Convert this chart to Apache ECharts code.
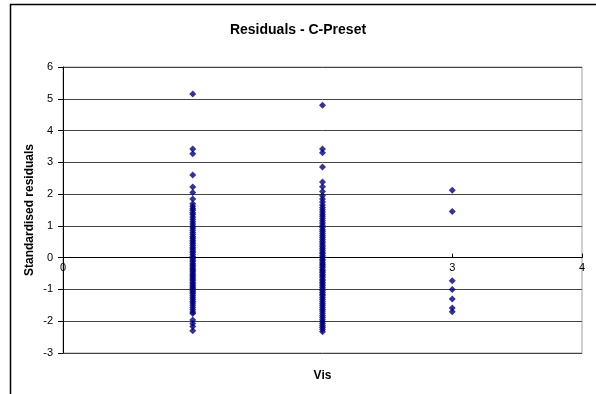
<!DOCTYPE html>
<html>
<head>
<meta charset="utf-8">
<script src="https://cdn.jsdelivr.net/npm/echarts@6/dist/echarts.min.js"></script>
<style>
html,body{margin:0;padding:0;background:#fff;}
#c{width:596px;height:394px;}
</style>
</head>
<body>
<div id="c"></div>
<script>
var chartTitle = 'Residuals - C-Preset';
var xName = 'Vis';
var yName = 'Standardised residuals';
var xTicks = [0, 1, 2, 3, 4];
var yTicks = [-3, -2, -1, 0, 1, 2, 3, 4, 5, 6];

var vis1Residuals = [5.15, 3.42, 3.27, 2.6, 2.22, 2.05, 1.85, 1.7,
  1.62, 1.55, 1.49, 1.41, 1.36, 1.28, 1.21, 1.13, 1.06, 0.99, 0.93, 0.86, 0.79, 0.73,
  0.66, 0.61, 0.55, 0.49, 0.44, 0.38, 0.32, 0.27, 0.21, 0.16, 0.1, 0.04, -0.02, -0.07,
  -0.12, -0.18, -0.23, -0.28, -0.33, -0.38, -0.43, -0.48, -0.54, -0.58, -0.63, -0.68,
  -0.73, -0.79, -0.83, -0.88, -0.93, -0.98, -1.04, -1.08, -1.13, -1.19, -1.25, -1.31,
  -1.37, -1.43, -1.5, -1.57, -1.64, -1.71, -1.76,
  -1.96, -2.07, -2.17, -2.3];
var vis2Residuals = [4.8, 3.42, 3.3, 2.85, 2.38, 2.23, 2.08, 1.95, 1.85, 1.75,
  1.66, 1.58, 1.51, 1.44, 1.37, 1.3, 1.23, 1.16, 1.09, 1.02, 0.95, 0.88, 0.82, 0.76,
  0.7, 0.64, 0.58, 0.52, 0.46, 0.4, 0.34, 0.29, 0.23, 0.17, 0.12, 0.06, 0.01, -0.05,
  -0.1, -0.16, -0.21, -0.26, -0.31, -0.37, -0.42, -0.47, -0.52, -0.57, -0.62, -0.68,
  -0.73, -0.78, -0.83, -0.88, -0.94, -0.99, -1.04, -1.1, -1.15, -1.2, -1.26, -1.32,
  -1.38, -1.44, -1.5, -1.56, -1.62, -1.68, -1.75, -1.82, -1.88, -1.95, -2.02, -2.08,
  -2.14, -2.2, -2.26, -2.33];
var vis3Residuals = [2.12, 1.45, -0.73, -1.0, -1.3, -1.58, -1.7];

var groups = [
  {vis: 1, values: vis1Residuals},
  {vis: 2, values: vis2Residuals},
  {vis: 3, values: vis3Residuals}
];
var points = [];
groups.forEach(function (g) {
  g.values.forEach(function (v) { points.push([g.vis, v]); });
});

var gridTop = 67, gridBottom = 41, chartH = 394;
var yMin = yTicks[0], yMax = yTicks[yTicks.length - 1];
// move the x axis (line, ticks, labels, name) up to where y = 0 sits
var zeroOffset = -(chartH - gridTop - gridBottom) * (0 - yMin) / (yMax - yMin);

var font = 'Liberation Sans, Arial, sans-serif';
var chart = echarts.init(document.getElementById('c'));
chart.setOption({
  animation: false,
  backgroundColor: '#fff',
  title: {
    text: chartTitle,
    left: 'center',
    top: 18,
    textStyle: {fontFamily: font, fontSize: 14, fontWeight: 'bold', color: '#000'}
  },
  graphic: [{
    type: 'rect',
    left: 8, top: 2,
    shape: {width: 587, height: 400},
    style: {fill: 'none', stroke: '#000', lineWidth: 1.5},
    silent: true
  }],
  grid: {
    left: 63, right: 14, top: gridTop, bottom: gridBottom,
    containLabel: false,
    outerBoundsMode: 'none',
    show: true, borderColor: '#a0a0a0', borderWidth: 1
  },
  xAxis: {
    type: 'value',
    position: 'bottom',
    offset: zeroOffset,
    min: xTicks[0], max: xTicks[xTicks.length - 1], interval: 1,
    name: xName,
    nameLocation: 'middle',
    nameGap: 112,
    nameMoveOverlap: false,
    nameTextStyle: {fontFamily: font, fontSize: 12, fontWeight: 'bold', color: '#000'},
    axisLine: {onZero: false, lineStyle: {color: '#000', width: 1}},
    axisTick: {show: true, inside: true, length: 4, lineStyle: {color: '#000'}},
    axisLabel: {fontFamily: font, fontSize: 11, color: '#000', margin: 5},
    splitLine: {show: false}
  },
  yAxis: {
    type: 'value',
    min: yMin, max: yMax, interval: 1,
    name: yName,
    nameLocation: 'middle',
    nameGap: 27,
    nameMoveOverlap: false,
    nameTextStyle: {fontFamily: font, fontSize: 12, fontWeight: 'bold', color: '#000'},
    axisLine: {show: true, lineStyle: {color: '#000', width: 1}},
    axisTick: {show: true, inside: false, length: 5, lineStyle: {color: '#000'}},
    axisLabel: {fontFamily: font, fontSize: 11, color: '#000', margin: 10},
    splitLine: {show: true, lineStyle: {color: '#444', width: 1}}
  },
  series: [{
    type: 'scatter',
    data: points,
    symbol: 'diamond',
    symbolSize: [7, 7],
    itemStyle: {color: '#000080'}
  }]
});
</script>
</body>
</html>
